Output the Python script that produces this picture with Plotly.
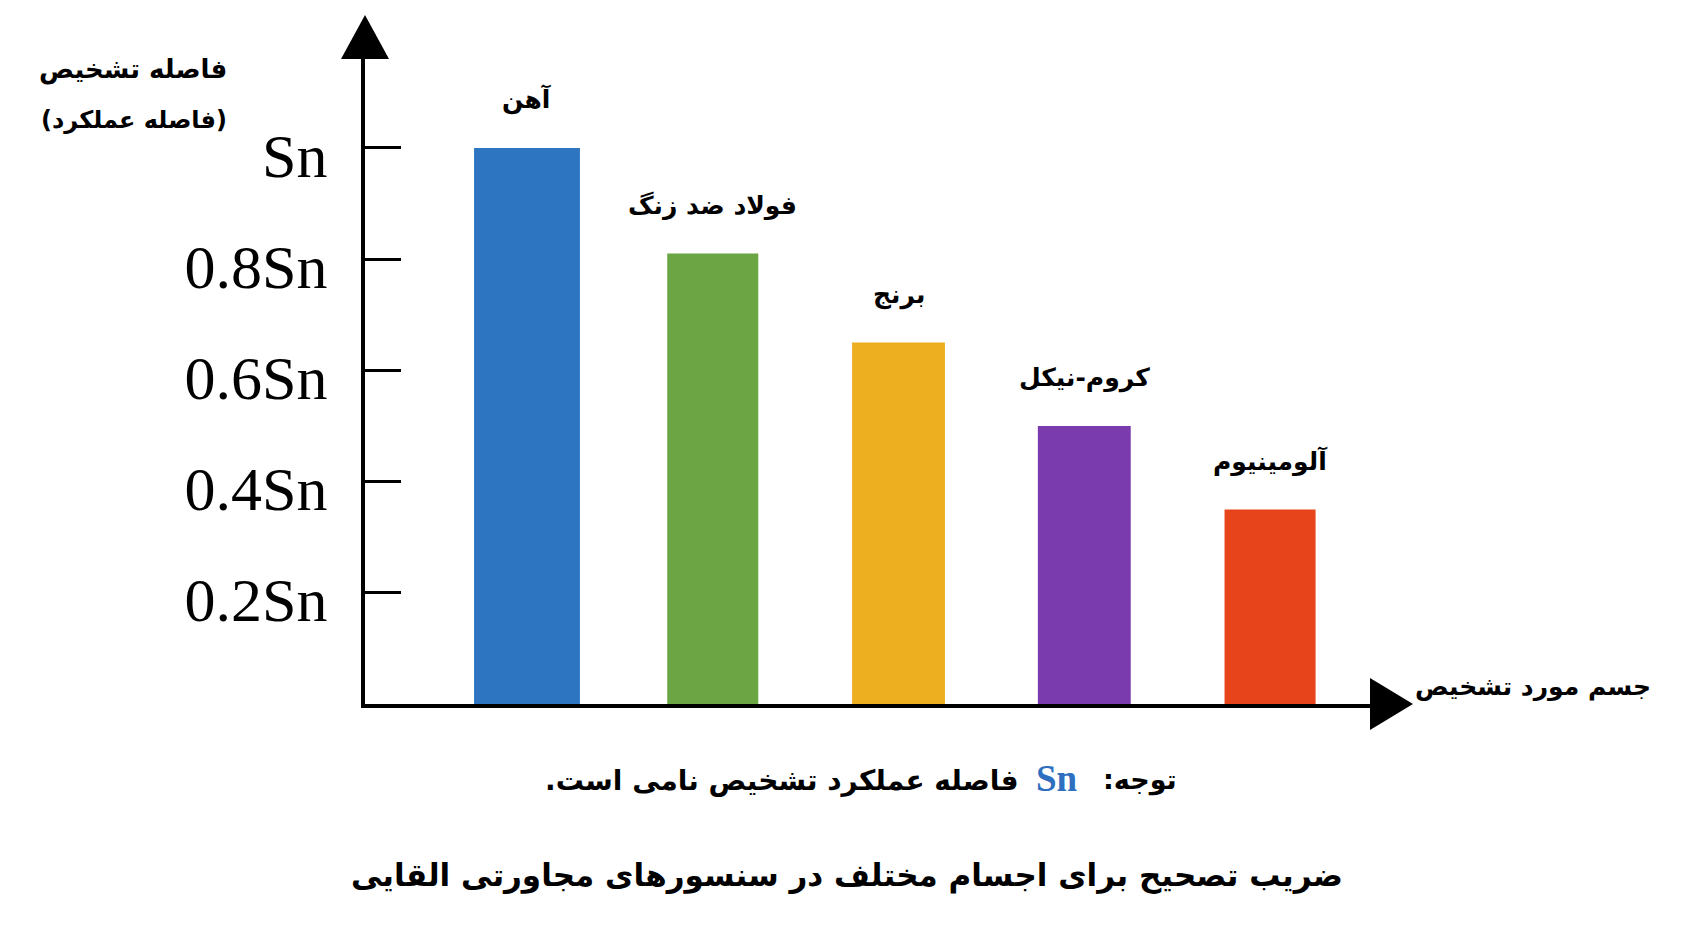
import plotly.graph_objects as go

# data
materials = ["آهن", "فولاد ضد زنگ", "برنج", "کروم-نیکل", "آلومینیوم"]
factors = [1.0, 0.81, 0.65, 0.5, 0.35]
bar_colors = ["#2E75C1", "#6BA544", "#EDAF1F", "#7A3BAF", "#E8441C"]
tick_vals = [0.2, 0.4, 0.6, 0.8, 1.0]
tick_text = ["0.2Sn", "0.4Sn", "0.6Sn", "0.8Sn", "Sn"]

fa_font = "DejaVu Sans"
RLM = "\u200f"

fig = go.Figure()
fig.add_trace(go.Bar(x=materials, y=factors, marker=dict(color=bar_colors, line=dict(width=0)),
                     width=[0.57, 0.49, 0.5, 0.5, 0.49], showlegend=False, hoverinfo="skip"))

# labels above each bar
for m, f in zip(materials, factors):
    fig.add_annotation(x=m, y=f, text="<b>" + m + "</b>", showarrow=False, yshift=48,
                       font=dict(family=fa_font, size=25, color="black"))

fig.update_xaxes(range=[-0.872, 4.538], showline=True, linecolor="black", linewidth=4,
                 showticklabels=False, ticks="", showgrid=False, zeroline=False, fixedrange=True)
fig.update_yaxes(range=[0, 1.16], showline=True, linecolor="black", linewidth=4,
                 tickvals=tick_vals, ticktext=tick_text, ticks="inside", ticklen=36, tickwidth=3,
                 tickcolor="black", ticklabelstandoff=21, ticklabelshift=7,
                 tickfont=dict(family="Liberation Serif", size=62, color="black"),
                 showgrid=False, zeroline=False, fixedrange=True)

# arrow heads on the axes
fig.add_shape(type="path", xref="paper", yref="paper", xsizemode="pixel", ysizemode="pixel",
              xanchor=0, yanchor=1, path="M -24,0 L 24,0 L 0,44 Z",
              fillcolor="black", line=dict(width=0))
fig.add_shape(type="path", xref="paper", yref="paper", xsizemode="pixel", ysizemode="pixel",
              xanchor=1, yanchor=0, path="M 0,26 L 43,0 L 0,-26 Z",
              fillcolor="black", line=dict(width=0))

# axis titles (positions in page pixels, converted below)
fig.add_annotation(x=229, y=70, xref="paper", yref="paper", text="<b>فاصله تشخیص</b>", showarrow=False,
                   xanchor="right", font=dict(family=fa_font, size=26, color="black"))
fig.add_annotation(x=229, y=120, xref="paper", yref="paper", text="<b>(فاصله عملکرد)</b>", showarrow=False,
                   xanchor="right", font=dict(family=fa_font, size=24, color="black"))
fig.add_annotation(x=1653, y=687, xref="paper", yref="paper", text="<b>جسم مورد تشخیص</b>", showarrow=False,
                   xanchor="right", font=dict(family=fa_font, size=25, color="black"))

# note line, split so the Latin part keeps its own style
fig.add_annotation(x=1179, y=780, xref="paper", yref="paper", text="<b>" + RLM + "توجه:" + RLM + "</b>",
                   showarrow=False, xanchor="right", font=dict(family=fa_font, size=27, color="black"))
fig.add_annotation(x=1057, y=778, xref="paper", yref="paper", text="<b>Sn</b>", showarrow=False,
                   xanchor="center", font=dict(family="Liberation Serif", size=37, color="#2E6FBF"))
fig.add_annotation(x=1021, y=780, xref="paper", yref="paper",
                   text="<b>" + RLM + "فاصله عملکرد تشخیص نامی است." + RLM + "</b>",
                   showarrow=False, xanchor="right", font=dict(family=fa_font, size=28, color="black"))

# bottom title
fig.add_annotation(x=847, y=875, xref="paper", yref="paper",
                   text="<b>ضریب تصحیح برای اجسام مختلف در سنسورهای مجاورتی القایی</b>",
                   showarrow=False, xanchor="center", font=dict(family=fa_font, size=31, color="black"))

# page has an 8px body margin, so the figure is a little smaller and shifted
off = 8
W, H = 1683 - off, 935 - off
ml, mt = 365 - off, 59 - off
pw, ph = 1005, 645
mr, mb = W - ml - pw, H - mt - ph
for a in fig.layout.annotations:
    if a.xref == "paper":
        a.x = (a.x - off - ml) / pw
        a.y = (mt + ph - (a.y - off)) / ph
        a.yanchor = "middle"

fig.update_layout(width=W, height=H, margin=dict(l=ml, r=mr, t=mt, b=mb),
                  plot_bgcolor="white", paper_bgcolor="white")

fig.write_html("out.html")
